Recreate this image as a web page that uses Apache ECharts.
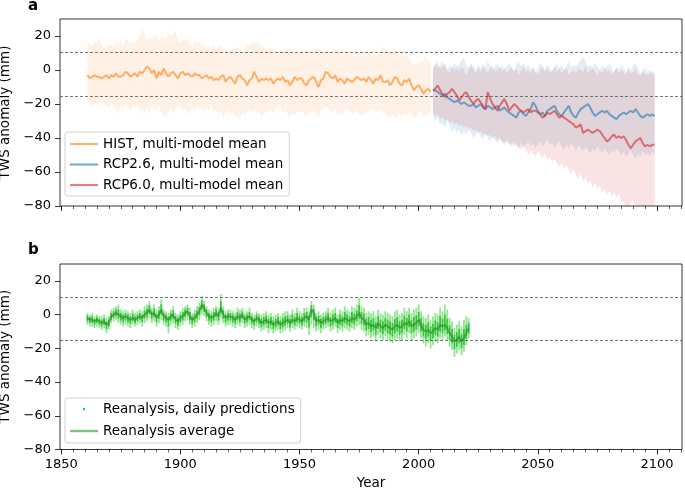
<!DOCTYPE html>
<html>
<head>
<meta charset="utf-8">
<script src="https://cdn.jsdelivr.net/npm/echarts@6/dist/echarts.min.js"></script>
<style>
  html, body { margin: 0; padding: 0; background: #fff; }
  #chart { width: 685px; height: 491px; }
</style>
</head>
<body>
<div id="chart"></div>
<script>
  // ---- data ----
  var HIST_START = 1861;
  var RCP_START = 2006;
  var REAN_START = 1861;

  var histMean = [
    -3,-5,-4,-3,-4,-4,-5,-4,-3,-5,
    -3,-4,-2,-4,-4,-3,-1,-2,-4,-3,
    -2,-4,-1,-2,0,2,1,-2,0,-5,
    -1,-3,1,-2,-4,-2,-1,-3,-5,-2,
    -1,-3,-2,-3,-4,-2,-3,-3,-5,-4,
    -3,-5,-4,-6,-5,-6,-4,-3,-7,-5,
    -4,-6,-8,-4,-3,-5,-6,-9,-6,-5,
    -1,-4,-7,-5,-6,-5,-6,-5,-8,-6,
    -5,-6,-4,-7,-6,-9,-7,-4,-6,-5,
    -5,-8,-9,-6,-5,-4,-7,-10,-6,-5,
    -1,-2,-4,-5,-3,-7,-5,-6,-8,-5,
    -6,-7,-6,-4,-5,-6,-5,-7,-4,-6,
    -8,-5,-6,-3,-7,-7,-6,-9,-7,-4,
    -5,-8,-9,-6,-7,-5,-9,-12,-10,-9,
    -11,-14,-12,-11,-13
  ];
  var histHi = [
    15,16,14,17,16,18,15,13,15,14,
    16,13,17,15,18,14,19,17,15,17,
    16,18,20,25,21,17,19,18,21,20,
    17,20,19,18,22,20,21,23,18,16,
    18,17,19,15,14,17,16,17,13,15,
    12,14,13,15,12,15,14,12,13,10,
    11,13,12,14,13,10,12,15,14,17,
    15,17,16,13,14,12,12,14,11,10,
    10,12,11,13,12,13,10,11,9,10,
    11,10,12,11,9,11,12,13,11,10,
    12,10,11,9,12,12,10,9,11,10,
    9,10,9,8,11,10,11,9,10,8,
    9,8,10,11,14,12,10,11,9,12,
    10,9,11,8,10,7,5,3,4,3,
    6,5,8,5,6
  ];
  var histLo = [
    -18,-20,-22,-19,-21,-20,-18,-21,-20,-23,
    -19,-22,-24,-25,-21,-23,-20,-22,-24,-21,
    -22,-20,-24,-23,-26,-22,-25,-21,-24,-23,
    -20,-25,-27,-28,-24,-22,-25,-23,-21,-22,
    -24,-23,-25,-26,-22,-24,-21,-23,-22,-25,
    -22,-24,-21,-25,-23,-26,-24,-28,-25,-23,
    -26,-24,-27,-29,-28,-25,-27,-24,-23,-25,
    -22,-26,-24,-27,-26,-25,-24,-23,-26,-22,
    -23,-21,-25,-24,-26,-28,-25,-27,-24,-25,
    -24,-26,-27,-25,-25,-23,-26,-28,-24,-22,
    -21,-23,-24,-26,-23,-27,-25,-26,-24,-23,
    -24,-26,-25,-23,-26,-27,-25,-26,-24,-22,
    -23,-25,-24,-22,-26,-25,-27,-28,-26,-29,
    -27,-26,-28,-25,-27,-25,-26,-28,-27,-25,
    -24,-28,-26,-25,-26
  ];

  var rcp26Mean = [
    -12,-12,-13,-14,-15,-14,-16,-17,-18,-19,
    -18,-19,-20,-19,-20,-21,-21,-20,-22,-21,
    -20,-22,-23,-21,-22,-23,-22,-21,-24,-23,
    -22,-24,-25,-26,-27,-28,-25,-24,-26,-27,
    -25,-23,-19,-21,-24,-26,-25,-27,-24,-23,
    -22,-21,-24,-26,-27,-25,-23,-21,-25,-27,
    -28,-25,-23,-22,-21,-20,-22,-25,-27,-26,
    -25,-24,-25,-24,-26,-27,-28,-29,-27,-26,
    -25,-26,-25,-24,-25,-23,-25,-27,-28,-27,
    -26,-27,-26,-27
  ];
  var rcp26Hi = [
    2,4,1,3,5,2,0,3,1,4,
    2,3,6,7,3,1,4,2,0,3,
    1,4,2,5,3,0,2,4,1,3,
    0,2,4,1,-1,3,5,2,4,1,
    3,0,2,-2,1,4,2,0,3,1,
    -1,2,4,1,3,0,2,5,1,3,
    2,4,6,8,5,2,3,1,4,2,
    0,3,1,2,4,1,-1,2,0,3,
    1,-1,2,0,3,4,1,-2,0,1,
    -1,0,-2,-1
  ];
  var rcp26Lo = [
    -27,-30,-28,-32,-31,-34,-30,-33,-36,-34,
    -37,-35,-39,-36,-38,-35,-37,-40,-38,-36,
    -39,-41,-38,-40,-42,-39,-41,-43,-40,-42,
    -44,-41,-43,-45,-42,-44,-46,-43,-45,-44,
    -42,-45,-43,-46,-44,-42,-45,-43,-41,-44,
    -43,-46,-44,-42,-45,-47,-44,-46,-43,-45,
    -47,-44,-46,-48,-45,-47,-49,-46,-48,-45,
    -47,-49,-46,-48,-50,-47,-49,-46,-48,-50,
    -48,-51,-49,-47,-50,-52,-49,-51,-48,-50,
    -49,-51,-48,-50
  ];

  var rcp60Mean = [
    -12,-11,-9,-12,-14,-16,-14,-13,-11,-13,
    -15,-18,-16,-14,-13,-16,-18,-20,-18,-17,
    -19,-21,-23,-13,-17,-20,-22,-24,-21,-19,
    -17,-20,-24,-22,-20,-21,-23,-24,-25,-24,
    -23,-25,-24,-24,-25,-26,-28,-27,-25,-26,
    -25,-24,-26,-28,-27,-28,-29,-30,-31,-32,
    -34,-33,-32,-37,-36,-35,-36,-37,-36,-35,
    -36,-38,-40,-42,-41,-39,-38,-40,-39,-40,
    -39,-41,-44,-46,-44,-42,-41,-40,-43,-45,
    -44,-45,-44,-44
  ];
  var rcp60Hi = [
    0,3,5,1,2,4,0,-2,2,0,
    1,-1,2,0,-3,1,3,0,-2,1,
    -1,2,0,-2,1,3,-1,0,2,-1,
    1,-2,0,2,-1,1,-3,0,2,-1,
    0,-2,1,-1,-3,0,2,-1,1,-2,
    0,2,-1,1,-2,0,1,-3,-1,0,
    -2,1,0,-1,2,-2,0,1,-1,-3,
    0,-2,1,-1,0,-3,-1,1,-2,0,
    -1,-3,0,-2,-1,1,-2,-4,-1,-2,
    -3,-2,-1,-3
  ];
  var rcp60Lo = [
    -25,-27,-26,-29,-28,-30,-29,-31,-30,-32,
    -31,-33,-32,-34,-33,-35,-34,-36,-35,-37,
    -36,-38,-37,-39,-38,-40,-39,-41,-40,-42,
    -43,-42,-44,-43,-45,-44,-46,-47,-45,-47,
    -50,-47,-49,-51,-48,-50,-52,-49,-53,-51,
    -54,-52,-55,-57,-54,-58,-56,-59,-61,-58,
    -62,-64,-61,-66,-63,-67,-65,-69,-66,-70,
    -68,-72,-70,-73,-71,-74,-72,-75,-73,-77,
    -78,-80,-82,-79,-76,-81,-84,-83,-85,-86,
    -84,-86,-85,-87
  ];

  var reanAvg = [
    -2,-3,-3,-4,-3,-4,-5,-4,-6,-5,
    -1,0,1,0,-1,-2,-1,-2,-3,-2,
    -3,-2,-1,-2,0,1,3,0,1,-2,
    0,3,-1,-2,-3,-1,0,-3,-4,-2,
    -1,1,2,-1,-3,-2,0,2,6,4,
    1,-1,-2,-1,1,-1,4,0,-2,-1,
    -1,-2,-3,-1,-2,0,-3,-2,-1,-3,
    -4,-2,-3,-5,-4,-3,-5,-4,-6,-5,
    -4,-6,-5,-4,-3,-5,-3,-4,-2,-3,
    -4,-2,-1,-3,3,1,-4,-3,-5,-4,
    -3,-2,-4,-3,-2,-5,-3,-4,-2,-3,
    -4,-2,-3,-1,1,-2,-3,-6,-5,-7,
    -6,-8,-5,-7,-8,-6,-7,-8,-9,-7,
    -6,-8,-7,-5,-6,-4,-7,-6,-5,-3,
    -6,-9,-10,-9,-11,-10,-8,-9,-6,-7,
    -6,-8,-11,-13,-16,-15,-13,-16,-14,-11,
    -8
  ];
  var reanHi = [
    1,0,1,-1,0,-1,-1,0,-2,-1,
    3,4,5,6,3,2,3,2,1,3,
    1,2,3,2,5,6,8,4,6,3,
    5,9,3,2,1,3,5,1,0,2,
    4,5,6,4,1,3,5,7,11,8,
    5,3,2,4,5,4,12,5,2,3,
    3,2,1,4,3,4,1,2,4,1,
    0,2,1,0,1,2,0,1,-1,0,
    1,-1,1,2,2,0,3,1,4,2,
    1,4,4,2,8,6,1,2,0,1,
    2,4,1,3,4,0,3,2,5,3,
    2,5,4,6,10,5,4,1,2,1,
    2,-1,3,1,0,2,1,0,-1,2,
    3,0,1,4,2,4,1,3,4,6,
    2,-1,-2,0,-3,-1,1,0,4,2,
    6,3,-2,-4,-8,-6,-4,-7,-3,-1,
    -2
  ];
  var reanLo = [
    -6,-7,-7,-8,-7,-8,-9,-8,-11,-9,
    -5,-4,-3,-5,-6,-7,-6,-7,-8,-6,
    -7,-6,-5,-7,-5,-4,-2,-5,-4,-7,
    -5,-3,-6,-7,-11,-6,-5,-8,-9,-7,
    -6,-4,-3,-6,-8,-7,-5,-3,0,-1,
    -4,-6,-7,-6,-4,-6,-2,-5,-7,-6,
    -6,-7,-8,-6,-7,-5,-8,-7,-6,-8,
    -9,-7,-8,-10,-9,-8,-11,-9,-11,-10,
    -9,-11,-10,-9,-8,-10,-8,-9,-7,-8,
    -9,-7,-8,-12,-6,-8,-10,-9,-11,-9,
    -8,-7,-10,-9,-7,-11,-9,-10,-8,-9,
    -10,-8,-9,-7,-6,-9,-10,-13,-12,-14,
    -13,-16,-12,-14,-15,-13,-15,-16,-17,-15,
    -14,-16,-15,-12,-14,-11,-15,-14,-13,-11,
    -14,-17,-19,-17,-20,-18,-16,-17,-14,-15,
    -13,-15,-19,-21,-25,-23,-21,-24,-22,-18,
    -14
  ];

  var thresholds = [10.3, -15.5];
  var xTicks = [1850, 1900, 1950, 2000, 2050, 2100];
  var xMinorTicks = [];
  for (var t = 1850; t <= 2110; t += 5) xMinorTicks.push(t);
  var yTicks = [-80, -60, -40, -20, 0, 20];

  function years(start, n) {
    var out = [];
    for (var i = 0; i < n; i++) out.push(start + i);
    return out;
  }
  function pairs(xs, ys) {
    return xs.map(function (x, i) { return [x, ys[i]]; });
  }

  var histYears = years(HIST_START, histMean.length);
  var rcpYears = years(RCP_START, rcp26Mean.length);
  var reanYears = years(REAN_START, reanAvg.length);

  // ---- chart ----
  var FONT = 'DejaVu Sans';
  var X_MIN = 1849.5, X_MAX = 2110.5;
  var chart = echarts.init(document.getElementById('chart'));

  function minus(v) { return v < 0 ? '\u2212' + (-v) : '' + v; }

  function xMain(grid, withLabels) {
    return {
      type: 'value', gridIndex: grid, position: 'bottom', min: X_MIN, max: X_MAX,
      axisLine: {show: false, onZero: false}, splitLine: {show: false},
      axisTick: {show: true, length: 5, customValues: xTicks, lineStyle: {color: '#000', width: 0.8}},
      axisLabel: {show: withLabels, customValues: xTicks, formatter: function (v) { return '' + v; },
                  color: '#000', fontSize: 13, fontFamily: FONT, margin: 9},
      name: withLabels ? 'Year' : '', nameLocation: 'middle', nameGap: 27,
      nameTextStyle: {color: '#000', fontSize: 13.5, fontFamily: FONT}
    };
  }
  function xMinor(grid) {
    return {
      type: 'value', gridIndex: grid, position: 'bottom', min: X_MIN, max: X_MAX,
      axisLine: {show: false, onZero: false}, splitLine: {show: false}, axisLabel: {show: false},
      axisTick: {show: true, length: 3, customValues: xMinorTicks, lineStyle: {color: '#000', width: 0.6}}
    };
  }
  function yAxis(grid) {
    return {
      type: 'value', gridIndex: grid, min: -80, max: 30,
      axisLine: {show: false, onZero: false}, splitLine: {show: false},
      axisTick: {show: true, length: 5, customValues: yTicks, lineStyle: {color: '#000', width: 0.8}},
      axisLabel: {customValues: yTicks, formatter: minus, color: '#000', fontSize: 13, fontFamily: FONT, margin: 9},
      name: 'TWS anomaly (mm)', nameLocation: 'middle', nameGap: 45,
      nameTextStyle: {color: '#000', fontSize: 13.5, fontFamily: FONT}
    };
  }

  function band(xs, lo, hi, color) {
    return {
      type: 'custom', xAxisIndex: 0, yAxisIndex: 0, z: 1, silent: true, clip: true,
      data: [[xs[0], hi[0]]],
      renderItem: function (params, api) {
        var pts = [];
        for (var i = 0; i < xs.length; i++) pts.push(api.coord([xs[i], hi[i]]));
        for (var j = xs.length - 1; j >= 0; j--) pts.push(api.coord([xs[j], lo[j]]));
        var cs = params.coordSys;
        pts = echarts.graphic.clipPointsByRect(pts, {x: cs.x, y: cs.y, width: cs.width, height: cs.height});
        return {type: 'polygon', shape: {points: pts}, style: {fill: color}};
      }
    };
  }

  function meanLine(name, xs, ys, color) {
    return {
      name: name, type: 'line', xAxisIndex: 0, yAxisIndex: 0, z: 3,
      data: pairs(xs, ys), symbol: 'none', lineStyle: {color: color, width: 2}, itemStyle: {color: color}
    };
  }

  var thresholdLines = {
    silent: true, symbol: 'none', label: {show: false},
    lineStyle: {color: '#555', type: [3, 2], width: 0.8},
    data: thresholds.map(function (v) { return {yAxis: v}; })
  };

  var histLine = meanLine('HIST, multi-model mean', histYears, histMean, 'rgba(255,127,14,0.6)');
  histLine.markLine = thresholdLines;

  var legendText = {color: '#000', fontSize: 13.5, fontFamily: FONT, lineHeight: 14};

  var option = {
    backgroundColor: '#fff',
    animation: false,
    textStyle: {fontFamily: FONT},
    graphic: [
      {type: 'text', left: 28, top: -1, style: {text: 'a', font: 'bold 15px "DejaVu Sans"', fill: '#000'}},
      {type: 'text', left: 28, top: 243, style: {text: 'b', font: 'bold 15px "DejaVu Sans"', fill: '#000'}}
    ],
    grid: [
      {left: 60, top: 19, width: 622, height: 187, show: true, borderColor: '#000', borderWidth: 0.8,
       backgroundColor: 'transparent', outerBoundsMode: 'none'},
      {left: 60, top: 264, width: 622, height: 185.5, show: true, borderColor: '#000', borderWidth: 0.8,
       backgroundColor: 'transparent', outerBoundsMode: 'none'}
    ],
    xAxis: [xMain(0, false), xMinor(0), xMain(1, true), xMinor(1)],
    yAxis: [yAxis(0), yAxis(1)],
    legend: [
      {
        data: [
          {name: 'HIST, multi-model mean', icon: 'rect'},
          {name: 'RCP2.6, multi-model mean', icon: 'rect'},
          {name: 'RCP6.0, multi-model mean', icon: 'rect'}
        ],
        orient: 'vertical', left: 65, top: 132, itemWidth: 28, itemHeight: 2.2, itemGap: 6.5,
        padding: [5, 6, 4, 5], borderColor: '#d0d0d0', borderWidth: 1, borderRadius: 3,
        backgroundColor: 'rgba(255,255,255,0.8)', selectedMode: false, textStyle: legendText
      },
      {
        data: [
          {name: 'Reanalysis, daily predictions', icon: 'circle'},
          {name: 'Reanalysis average', icon: 'rect'}
        ],
        orient: 'vertical', left: 65, top: 398, itemWidth: 28, itemHeight: 2.4, itemGap: 8,
        padding: [4, 6, 5, 5], borderColor: '#d0d0d0', borderWidth: 1, borderRadius: 3,
        backgroundColor: 'rgba(255,255,255,0.8)', selectedMode: false, textStyle: legendText
      }
    ],
    series: [
      band(histYears, histLo, histHi, 'rgba(255,127,14,0.11)'),
      band(rcpYears, rcp26Lo, rcp26Hi, 'rgba(31,119,180,0.13)'),
      band(rcpYears, rcp60Lo, rcp60Hi, 'rgba(214,39,40,0.13)'),
      histLine,
      meanLine('RCP2.6, multi-model mean', rcpYears, rcp26Mean, 'rgba(31,119,180,0.6)'),
      meanLine('RCP6.0, multi-model mean', rcpYears, rcp60Mean, 'rgba(214,39,40,0.6)'),
      {
        name: 'Reanalysis, daily predictions', type: 'custom', xAxisIndex: 2, yAxisIndex: 1, z: 2, clip: true,
        itemStyle: {color: '#22cc22'},
        data: reanYears.map(function (y, i) { return [y, reanLo[i], reanHi[i], reanAvg[i]]; }),
        encode: {x: 0, y: [1, 2]},
        renderItem: function (params, api) {
          var x = api.value(0), lo = api.value(1), hi = api.value(2), m = api.value(3);
          var a = api.coord([x, lo]), b = api.coord([x, hi]);
          var c = api.coord([x, (lo + m) / 2]), d = api.coord([x, (hi + m) / 2]);
          return {
            type: 'group', children: [
              {type: 'line', shape: {x1: a[0], y1: a[1], x2: b[0], y2: b[1]},
               style: {stroke: 'rgba(40,205,40,0.5)', lineWidth: 1.8}},
              {type: 'line', shape: {x1: c[0], y1: c[1], x2: d[0], y2: d[1]},
               style: {stroke: 'rgba(25,185,25,0.75)', lineWidth: 1.8}}
            ]
          };
        }
      },
      {
        name: 'Reanalysis average', type: 'line', xAxisIndex: 2, yAxisIndex: 1, z: 3,
        data: pairs(reanYears, reanAvg), symbol: 'none',
        lineStyle: {color: 'rgba(44,140,44,0.7)', width: 1.8}, itemStyle: {color: 'rgba(44,150,44,0.6)'},
        markLine: thresholdLines
      }
    ]
  };

  chart.setOption(option);
</script>
</body>
</html>
